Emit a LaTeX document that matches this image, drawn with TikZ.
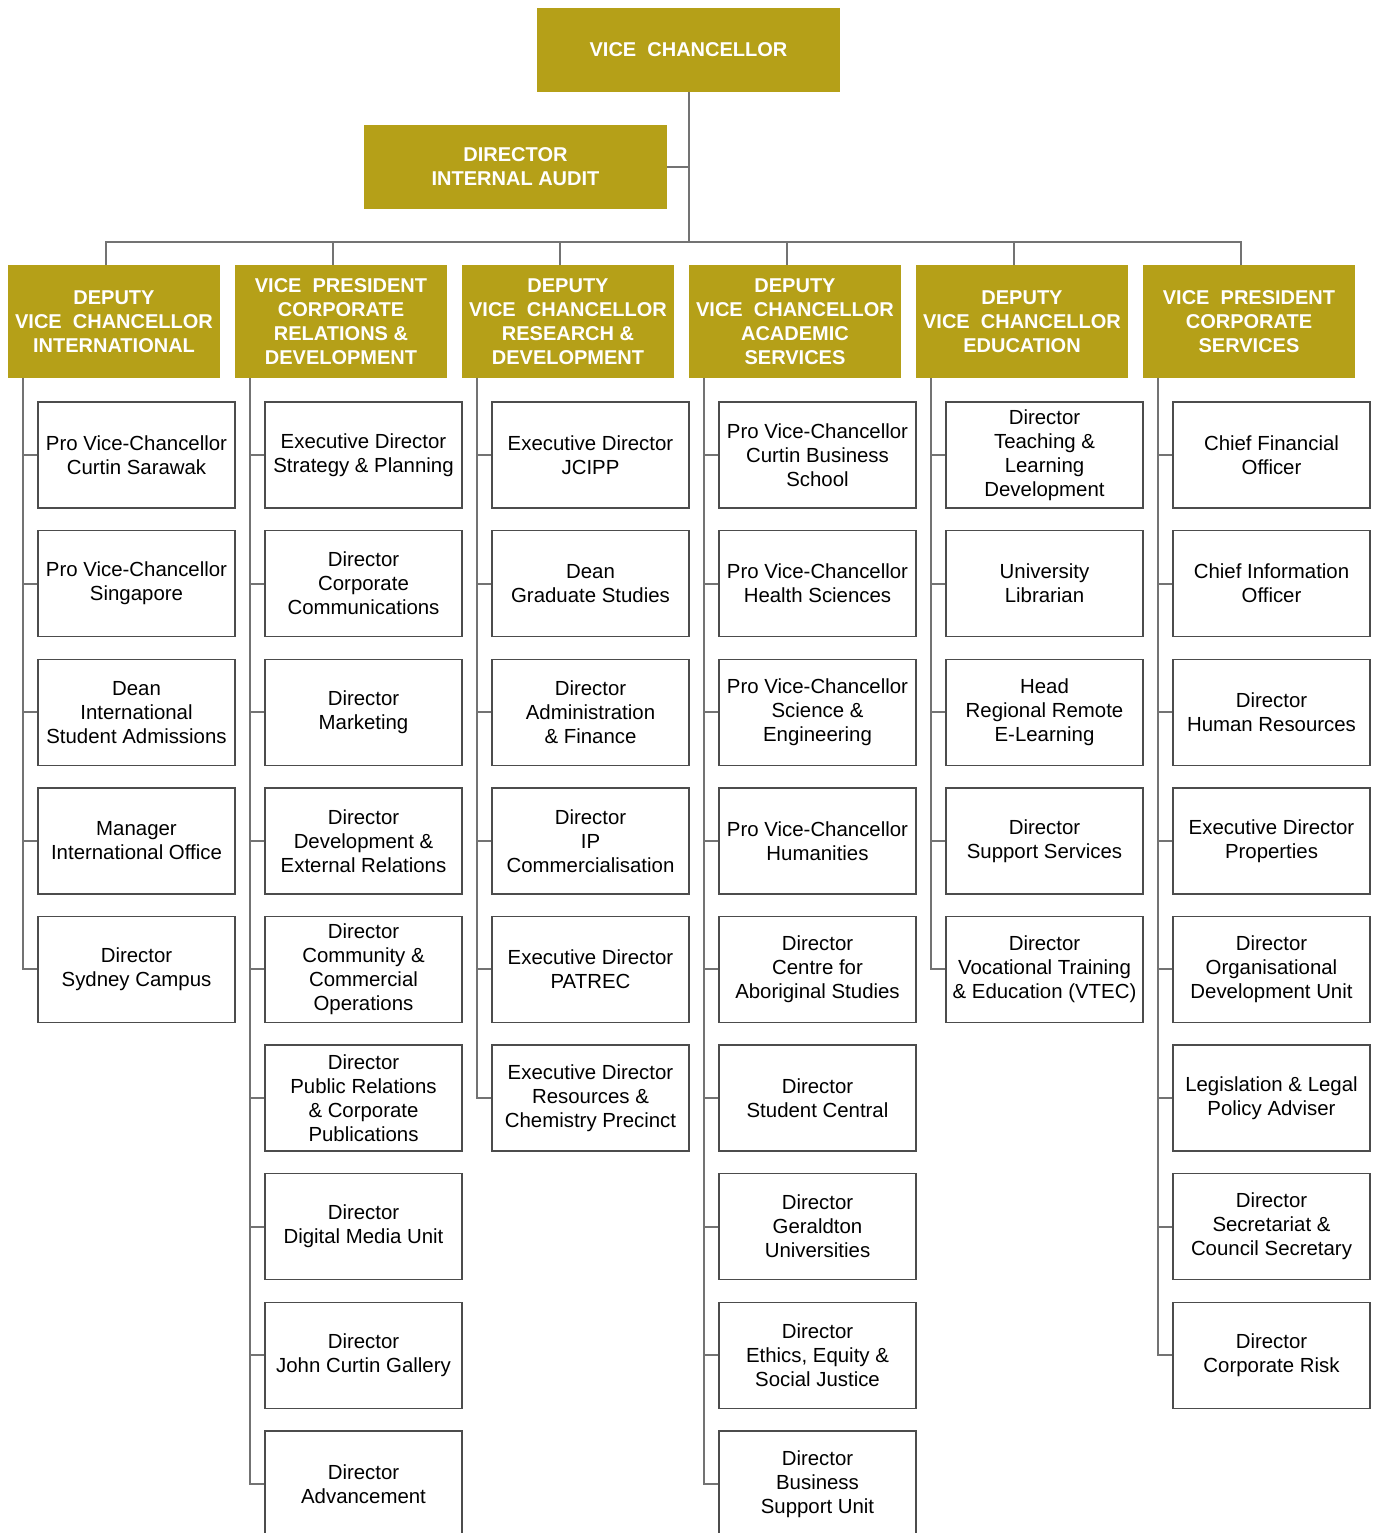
\documentclass[tikz,border=0pt]{standalone}
\usepackage{fontspec}
\setmainfont{Liberation Sans}
\definecolor{curtingold}{RGB}{181,160,24}

\begin{document}
\begin{tikzpicture}[x=0.5pt, y=-0.5pt,
    vcbox/.style={fill=curtingold, text=white, align=center, inner sep=0pt,
      font=\bfseries\fontsize{10}{12}\selectfont,
      minimum width=151.5pt, minimum height=42pt},
    headbox/.style={vcbox, minimum width=106pt, minimum height=56.5pt},
    unitbox/.style={draw=black!70, line width=0.7pt, align=center, inner sep=0pt,
      font=\fontsize{10.2}{12}\selectfont,
      minimum width=98.5pt, minimum height=53pt},
    orgline/.style={draw=black!55, line width=1pt}]
    \useasboundingbox (0, 0) rectangle (1373, 1533);

    % top of the tree
    \node[vcbox] (vc) at (688.5, 50) {VICE~~CHANCELLOR};
    \node[vcbox] (dia) at (515.5, 167) {DIRECTOR\\INTERNAL AUDIT};

    \node[headbox] (h1) at (114, 321.5) {DEPUTY\\VICE~~CHANCELLOR\\INTERNATIONAL};
    \node[headbox] (h2) at (341, 321.5) {VICE~~PRESIDENT\\CORPORATE\\RELATIONS \&\\DEVELOPMENT};
    \node[headbox] (h3) at (568, 321.5) {DEPUTY\\VICE~~CHANCELLOR\\RESEARCH \&\\DEVELOPMENT};
    \node[headbox] (h4) at (795, 321.5) {DEPUTY\\VICE~~CHANCELLOR\\ACADEMIC\\SERVICES};
    \node[headbox] (h5) at (1022, 321.5) {DEPUTY\\VICE~~CHANCELLOR\\EDUCATION};
    \node[headbox] (h6) at (1249, 321.5) {VICE~~PRESIDENT\\CORPORATE\\SERVICES};

    \coordinate (bus) at (689, 242);
    \draw[orgline] (vc.south) -- (vc.south |- bus);
    \draw[orgline] (dia.east) -- (dia.east -| vc.south);
    \draw[orgline] ([xshift=-4pt]h1.north) -- ++(0, -23) -| ([xshift=-4pt]h6.north);
    \draw[orgline] ([xshift=-4pt]h2.north) -- ++(0, -23);
    \draw[orgline] ([xshift=-4pt]h3.north) -- ++(0, -23);
    \draw[orgline] ([xshift=-4pt]h4.north) -- ++(0, -23);
    \draw[orgline] ([xshift=-4pt]h5.north) -- ++(0, -23);

    % international
    \node[unitbox] (c1a) at (136.5, 455) {Pro Vice-Chancellor\\Curtin Sarawak};
    \node[unitbox] (c1b) at (136.5, 583.6) {Pro Vice-Chancellor\\Singapore};
    \node[unitbox] (c1c) at (136.5, 712.2) {Dean\\International\\Student Admissions};
    \node[unitbox] (c1d) at (136.5, 840.8) {Manager\\International Office};
    \node[unitbox] (c1e) at (136.5, 969.4) {Director\\Sydney Campus};

    % corporate relations
    \node[unitbox] (c2a) at (363.5, 455) {Executive Director\\Strategy \& Planning};
    \node[unitbox] (c2b) at (363.5, 583.6) {Director\\Corporate\\Communications};
    \node[unitbox] (c2c) at (363.5, 712.2) {Director\\Marketing};
    \node[unitbox] (c2d) at (363.5, 840.8) {Director\\Development \&\\External Relations};
    \node[unitbox] (c2e) at (363.5, 969.4) {Director\\Community \&\\Commercial\\Operations};
    \node[unitbox] (c2f) at (363.5, 1098) {Director\\Public Relations\\\& Corporate\\Publications};
    \node[unitbox] (c2g) at (363.5, 1226.6) {Director\\Digital Media Unit};
    \node[unitbox] (c2h) at (363.5, 1355.2) {Director\\John Curtin Gallery};
    \node[unitbox] (c2i) at (363.5, 1483.8) {Director\\Advancement};

    % research
    \node[unitbox] (c3a) at (590.5, 455) {Executive Director\\JCIPP};
    \node[unitbox] (c3b) at (590.5, 583.6) {Dean\\Graduate Studies};
    \node[unitbox] (c3c) at (590.5, 712.2) {Director\\Administration\\\& Finance};
    \node[unitbox] (c3d) at (590.5, 840.8) {Director\\IP\\Commercialisation};
    \node[unitbox] (c3e) at (590.5, 969.4) {Executive Director\\PATREC};
    \node[unitbox] (c3f) at (590.5, 1098) {Executive Director\\Resources \&\\Chemistry Precinct};

    % academic services
    \node[unitbox] (c4a) at (817.5, 455) {Pro Vice-Chancellor\\Curtin Business\\School};
    \node[unitbox] (c4b) at (817.5, 583.6) {Pro Vice-Chancellor\\Health Sciences};
    \node[unitbox] (c4c) at (817.5, 712.2) {Pro Vice-Chancellor\\Science \&\\Engineering};
    \node[unitbox] (c4d) at (817.5, 840.8) {Pro Vice-Chancellor\\Humanities};
    \node[unitbox] (c4e) at (817.5, 969.4) {Director\\Centre for\\Aboriginal Studies};
    \node[unitbox] (c4f) at (817.5, 1098) {Director\\Student Central};
    \node[unitbox] (c4g) at (817.5, 1226.6) {Director\\Geraldton\\Universities};
    \node[unitbox] (c4h) at (817.5, 1355.2) {Director\\Ethics, Equity \&\\Social Justice};
    \node[unitbox] (c4i) at (817.5, 1483.8) {Director\\Business\\Support Unit};

    % education
    \node[unitbox] (c5a) at (1044.5, 455) {Director\\Teaching \&\\Learning\\Development};
    \node[unitbox] (c5b) at (1044.5, 583.6) {University\\Librarian};
    \node[unitbox] (c5c) at (1044.5, 712.2) {Head\\Regional Remote\\E-Learning};
    \node[unitbox] (c5d) at (1044.5, 840.8) {Director\\Support Services};
    \node[unitbox] (c5e) at (1044.5, 969.4) {Director\\Vocational Training\\\& Education (VTEC)};

    % corporate services
    \node[unitbox] (c6a) at (1271.5, 455) {Chief Financial\\Officer};
    \node[unitbox] (c6b) at (1271.5, 583.6) {Chief Information\\Officer};
    \node[unitbox] (c6c) at (1271.5, 712.2) {Director\\Human Resources};
    \node[unitbox] (c6d) at (1271.5, 840.8) {Executive Director\\Properties};
    \node[unitbox] (c6e) at (1271.5, 969.4) {Director\\Organisational\\Development Unit};
    \node[unitbox] (c6f) at (1271.5, 1098) {Legislation \& Legal\\Policy Adviser};
    \node[unitbox] (c6g) at (1271.5, 1226.6) {Director\\Secretariat \&\\Council Secretary};
    \node[unitbox] (c6h) at (1271.5, 1355.2) {Director\\Corporate Risk};

    % spines
    \draw[orgline] ([xshift=7.5pt]h1.south west) |- (c1e.west);
    \draw[orgline] (c1a.west) -- ++(-15, 0) (c1b.west) -- ++(-15, 0)
      (c1c.west) -- ++(-15, 0) (c1d.west) -- ++(-15, 0);

    \draw[orgline] ([xshift=7.5pt]h2.south west) |- (c2i.west);
    \draw[orgline] (c2a.west) -- ++(-15, 0) (c2b.west) -- ++(-15, 0)
      (c2c.west) -- ++(-15, 0) (c2d.west) -- ++(-15, 0)
      (c2e.west) -- ++(-15, 0) (c2f.west) -- ++(-15, 0)
      (c2g.west) -- ++(-15, 0) (c2h.west) -- ++(-15, 0);

    \draw[orgline] ([xshift=7.5pt]h3.south west) |- (c3f.west);
    \draw[orgline] (c3a.west) -- ++(-15, 0) (c3b.west) -- ++(-15, 0)
      (c3c.west) -- ++(-15, 0) (c3d.west) -- ++(-15, 0)
      (c3e.west) -- ++(-15, 0);

    \draw[orgline] ([xshift=7.5pt]h4.south west) |- (c4i.west);
    \draw[orgline] (c4a.west) -- ++(-15, 0) (c4b.west) -- ++(-15, 0)
      (c4c.west) -- ++(-15, 0) (c4d.west) -- ++(-15, 0)
      (c4e.west) -- ++(-15, 0) (c4f.west) -- ++(-15, 0)
      (c4g.west) -- ++(-15, 0) (c4h.west) -- ++(-15, 0);

    \draw[orgline] ([xshift=7.5pt]h5.south west) |- (c5e.west);
    \draw[orgline] (c5a.west) -- ++(-15, 0) (c5b.west) -- ++(-15, 0)
      (c5c.west) -- ++(-15, 0) (c5d.west) -- ++(-15, 0);

    \draw[orgline] ([xshift=7.5pt]h6.south west) |- (c6h.west);
    \draw[orgline] (c6a.west) -- ++(-15, 0) (c6b.west) -- ++(-15, 0)
      (c6c.west) -- ++(-15, 0) (c6d.west) -- ++(-15, 0)
      (c6e.west) -- ++(-15, 0) (c6f.west) -- ++(-15, 0)
      (c6g.west) -- ++(-15, 0);
  \end{tikzpicture}
\end{document}
